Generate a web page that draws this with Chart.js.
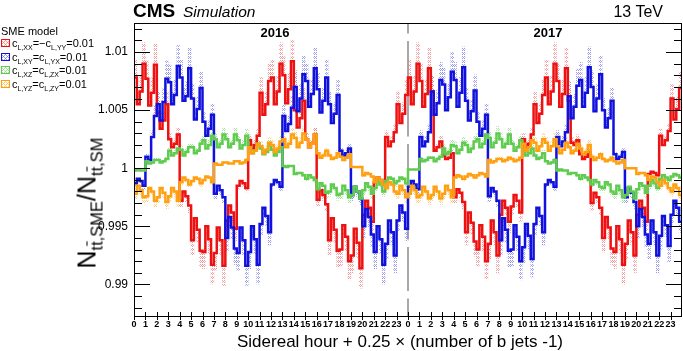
<!DOCTYPE html>
<html><head><meta charset="utf-8">
<script src="https://cdn.jsdelivr.net/npm/chart.js@4.4.1/dist/chart.umd.min.js"></script>
<style>
html,body{margin:0;padding:0;background:#fff;}
#wrap{position:relative;width:683px;height:351px;overflow:hidden;font-family:"Liberation Sans",Arial,Helvetica,sans-serif;color:#000;}
#c{position:absolute;left:0;top:0;}
.t{position:absolute;white-space:nowrap;line-height:1;}
.leg{position:absolute;left:1px;white-space:nowrap;line-height:1;font-size:11px;}
.leg sub{font-size:7px;vertical-align:-3px;line-height:0;}
.box{display:inline-block;width:7px;height:6px;margin-right:2px;vertical-align:0px;border:1px solid;}
#ytitle sub{font-size:16.5px;vertical-align:-7px;line-height:0;}
</style></head>
<body><div id="wrap">
<canvas id="c" width="683" height="351"></canvas>
<div class="t" style="left:133px;top:1px;font-size:19px;font-weight:bold;">CMS</div>
<div class="t" style="left:183px;top:4px;font-size:15.5px;font-style:italic;">Simulation</div>
<div class="t" style="right:20px;top:4px;font-size:16px;">13 TeV</div>
<div class="t" style="left:275px;top:26px;font-size:13px;font-weight:bold;transform:translateX(-50%);">2016</div>
<div class="t" style="left:548px;top:26px;font-size:13px;font-weight:bold;transform:translateX(-50%);">2017</div>
<div class="t" style="left:1px;top:26px;font-size:11px;">SME model</div>
<div class="leg" style="top:38px;"><span class="box" id="b0"></span>c<sub>L,XX</sub>=&minus;c<sub>L,YY</sub>=0.01</div>
<div class="leg" style="top:51.5px;"><span class="box" id="b1"></span>c<sub>L,XY</sub>=c<sub>L,YX</sub>=0.01</div>
<div class="leg" style="top:65px;"><span class="box" id="b2"></span>c<sub>L,XZ</sub>=c<sub>L,ZX</sub>=0.01</div>
<div class="leg" style="top:78.5px;"><span class="box" id="b3"></span>c<sub>L,YZ</sub>=c<sub>L,ZY</sub>=0.01</div>
<div class="t" id="ytitle" style="left:87px;top:203px;font-size:25px;transform:translate(-50%,-50%) rotate(-90deg);">N<sub>t<span style="text-decoration:overline">t</span>,SME</sub>/N<sub>t<span style="text-decoration:overline">t</span>,SM</sub></div>
<div class="t" style="left:400px;top:341px;font-size:17px;transform:translate(-50%,-50%);">Sidereal hour + 0.25 &times; (number of b jets -1)</div>
</div>
<script>
// ---------------- data ----------------
const hourLabels = ['0','1','2','3','4','5','6','7','8','9','10','11','12','13','14','15','16','17','18','19','20','21','22','23',
                    '0','1','2','3','4','5','6','7','8','9','10','11','12','13','14','15','16','17','18','19','20','21','22','23'];
const yTickValues = [0.99, 0.995, 1, 1.005, 1.01];
const yTickLabels = ['0.99', '0.995', '1', '1.005', '1.01'];
const seriesLabels = ['c_L,XX=-c_L,YY=0.01', 'c_L,XY=c_L,YX=0.01', 'c_L,XZ=c_L,ZX=0.01', 'c_L,YZ=c_L,ZY=0.01'];

const cXX2016 = [
1.0078,1.0055,1.0066,1.0090, 1.0077,1.0054,1.0065,1.0089, 1.0048,1.0034,1.0041,1.0055, 1.0025,1.0018,1.0021,1.0029,
0.9972,0.9980,0.9976,0.9968, 0.9938,0.9957,0.9947,0.9929, 0.9928,0.9950,0.9939,0.9917, 0.9927,0.9949,0.9938,0.9916,
0.9955,0.9968,0.9962,0.9948, 0.9985,0.9989,0.9987,0.9983, 1.0024,1.0017,1.0020,1.0028, 1.0065,1.0046,1.0055,1.0075,
1.0078,1.0055,1.0066,1.0090, 1.0080,1.0056,1.0068,1.0092, 1.0050,1.0035,1.0043,1.0058, 1.0025,1.0018,1.0021,1.0029,
0.9973,0.9981,0.9977,0.9969, 0.9938,0.9957,0.9947,0.9929, 0.9930,0.9951,0.9941,0.9920, 0.9925,0.9948,0.9936,0.9914,
0.9960,0.9972,0.9966,0.9954, 0.9988,0.9992,0.9990,0.9986, 1.0027,1.0019,1.0023,1.0031, 1.0055,1.0039,1.0047,1.0063];
const cXX2017 = [
1.0078,1.0055,1.0066,1.0090, 1.0075,1.0053,1.0064,1.0086, 1.0066,1.0015,1.0018,1.0023, 1.0011,1.0008,1.0009,1.0013,
0.9975,0.9982,0.9979,0.9971, 0.9945,0.9962,0.9953,0.9937, 0.9930,0.9951,0.9941,0.9920, 0.9935,0.9955,0.9945,0.9925,
0.9960,0.9972,0.9966,0.9954, 0.9967,0.9977,0.9972,0.9962, 1.0025,1.0018,1.0021,1.0029, 1.0055,1.0039,1.0047,1.0063,
1.0078,1.0055,1.0066,1.0090, 1.0075,1.0053,1.0064,1.0086, 1.0058,1.0022,1.0020,1.0024, 1.0012,1.0008,1.0010,1.0014,
0.9970,0.9979,0.9975,0.9966, 0.9940,0.9958,0.9949,0.9931, 0.9928,0.9950,0.9939,0.9917, 0.9935,0.9955,0.9945,0.9925,
0.9960,0.9972,0.9966,0.9954, 0.9995,0.9997,0.9996,0.9994, 1.0028,1.0020,1.0024,1.0032, 1.0060,1.0042,1.0051,1.0069];
const cXY2016 = [
0.9987,0.9991,0.9989,0.9985, 1.0010,1.0007,1.0027,1.0045, 1.0055,1.0041,1.0057,1.0077, 1.0074,1.0055,1.0063,1.0088,
1.0078,1.0058,1.0062,1.0086, 1.0060,1.0042,1.0051,1.0069, 1.0040,1.0028,1.0034,1.0046, 0.9978,0.9985,0.9981,0.9975,
0.9940,0.9958,0.9949,0.9931, 0.9927,0.9949,0.9938,0.9916, 0.9928,0.9950,0.9939,0.9917, 0.9952,0.9966,0.9959,0.9945,
0.9986,0.9990,0.9988,0.9984, 1.0045,1.0032,1.0038,1.0052, 1.0070,1.0049,1.0060,1.0081, 1.0075,1.0053,1.0064,1.0086,
1.0068,1.0048,1.0058,1.0078, 1.0055,1.0039,1.0047,1.0063, 1.0015,1.0011,1.0013,1.0017, 0.9977,0.9984,0.9980,0.9974,
0.9950,0.9965,0.9958,0.9943, 0.9928,0.9950,0.9939,0.9917, 0.9935,0.9955,0.9945,0.9925, 0.9955,0.9968,0.9962,0.9948];
const cXY2017 = [
0.9984,0.9989,0.9986,0.9982, 1.0027,1.0019,1.0023,1.0031, 1.0066,1.0046,1.0056,1.0076, 1.0072,1.0050,1.0061,1.0083,
1.0076,1.0053,1.0065,1.0087, 1.0058,1.0041,1.0049,1.0067, 1.0040,1.0028,1.0034,1.0046, 0.9976,0.9983,0.9980,0.9972,
0.9938,0.9957,0.9947,0.9929, 0.9930,0.9951,0.9941,0.9920, 0.9932,0.9952,0.9942,0.9922, 0.9952,0.9966,0.9959,0.9945,
0.9986,0.9990,0.9988,0.9984, 1.0027,1.0019,1.0023,1.0031, 1.0062,1.0043,1.0053,1.0071, 1.0076,1.0053,1.0065,1.0087,
1.0070,1.0049,1.0060,1.0081, 1.0050,1.0035,1.0043,1.0058, 1.0012,1.0008,1.0010,1.0014, 0.9975,0.9983,0.9979,0.9971,
0.9950,0.9965,0.9958,0.9943, 0.9935,0.9955,0.9945,0.9925, 0.9942,0.9959,0.9951,0.9933, 0.9960,0.9972,0.9966,0.9954];
const cXZ2016 = [
0.9998,0.9999,0.9998,0.9998, 1.0006,1.0004,1.0005,1.0007, 1.0007,1.0005,1.0006,1.0008, 1.0015,1.0011,1.0013,1.0017,
1.0016,1.0011,1.0014,1.0018, 1.0018,1.0013,1.0015,1.0021, 1.0024,1.0017,1.0020,1.0028, 1.0025,1.0018,1.0021,1.0029,
1.0025,1.0018,1.0021,1.0029, 1.0024,1.0017,1.0020,1.0028, 1.0018,1.0013,1.0015,1.0021, 1.0017,1.0012,1.0014,1.0020,
1.0016,1.0011,1.0014,1.0018, 1.0002,1.0001,1.0002,1.0002, 0.9995,0.9996,0.9996,0.9994, 0.9991,0.9994,0.9992,0.9990,
0.9982,0.9987,0.9985,0.9979, 0.9980,0.9986,0.9983,0.9977, 0.9978,0.9985,0.9981,0.9975, 0.9977,0.9984,0.9980,0.9974,
0.9981,0.9987,0.9984,0.9978, 0.9983,0.9988,0.9986,0.9980, 0.9989,0.9992,0.9991,0.9987, 0.9989,0.9992,0.9991,0.9987];
const cXZ2017 = [
0.9999,0.9999,0.9999,0.9999, 1.0008,1.0006,1.0007,1.0009, 1.0009,1.0006,1.0008,1.0010, 1.0017,1.0012,1.0014,1.0020,
1.0019,1.0013,1.0016,1.0022, 1.0020,1.0014,1.0017,1.0023, 1.0025,1.0018,1.0021,1.0029, 1.0026,1.0018,1.0022,1.0030,
1.0025,1.0018,1.0021,1.0029, 1.0021,1.0015,1.0018,1.0024, 1.0015,1.0011,1.0013,1.0017, 1.0011,1.0008,1.0009,1.0013,
1.0006,1.0004,1.0005,1.0007, 0.9998,0.9999,0.9998,0.9998, 0.9995,0.9996,0.9996,0.9994, 0.9991,0.9994,0.9992,0.9990,
0.9986,0.9990,0.9988,0.9984, 0.9983,0.9988,0.9986,0.9980, 0.9978,0.9985,0.9981,0.9975, 0.9977,0.9984,0.9980,0.9974,
0.9982,0.9987,0.9985,0.9979, 0.9985,0.9990,0.9987,0.9983, 0.9991,0.9994,0.9992,0.9990, 0.9993,0.9995,0.9994,0.9992];
const cYZ2016 = [
0.9978,0.9985,0.9981,0.9975, 0.9976,0.9983,0.9980,0.9972, 0.9975,0.9983,0.9979,0.9971, 0.9976,0.9983,0.9980,0.9972,
0.9988,0.9992,0.9990,0.9986, 0.9989,0.9992,0.9991,0.9987, 0.9990,0.9993,0.9992,0.9988, 1.0004,1.0003,1.0003,1.0005,
1.0005,1.0004,1.0004,1.0006, 1.0006,1.0004,1.0005,1.0007, 1.0018,1.0013,1.0015,1.0021, 1.0019,1.0013,1.0016,1.0022,
1.0020,1.0014,1.0017,1.0023, 1.0025,1.0018,1.0021,1.0029, 1.0026,1.0018,1.0022,1.0030, 1.0025,1.0018,1.0021,1.0029,
1.0013,1.0009,1.0011,1.0015, 1.0011,1.0008,1.0009,1.0013, 1.0010,1.0007,1.0009,1.0012, 1.0001,1.0001,1.0001,1.0001,
0.9994,0.9996,0.9995,0.9993, 0.9988,0.9992,0.9990,0.9986, 0.9983,0.9988,0.9986,0.9980, 0.9978,0.9985,0.9981,0.9975];
const cYZ2017 = [
0.9978,0.9985,0.9981,0.9975, 0.9977,0.9984,0.9980,0.9974, 0.9977,0.9984,0.9980,0.9974, 0.9978,0.9985,0.9981,0.9975,
0.9992,0.9994,0.9993,0.9991, 0.9993,0.9995,0.9994,0.9992, 0.9994,0.9996,0.9995,0.9993, 1.0007,1.0005,1.0006,1.0008,
1.0008,1.0006,1.0007,1.0009, 1.0008,1.0006,1.0007,1.0009, 1.0021,1.0015,1.0018,1.0024, 1.0022,1.0015,1.0019,1.0025,
1.0022,1.0015,1.0019,1.0025, 1.0019,1.0013,1.0016,1.0022, 1.0018,1.0013,1.0015,1.0021, 1.0017,1.0012,1.0014,1.0020,
1.0010,1.0007,1.0009,1.0012, 1.0008,1.0006,1.0007,1.0009, 1.0006,1.0004,1.0005,1.0007, 1.0000,1.0000,1.0000,1.0000,
0.9995,0.9996,0.9996,0.9994, 0.9990,0.9993,0.9992,0.9988, 0.9985,0.9990,0.9987,0.9983, 0.9980,0.9986,0.9983,0.9977];

// ---------------- styling ----------------
const binWidth = 0.25;        // x = hour + 0.25*(n_b - 1)
const yearBoundary = 24;
const bandFrac = 0.2;
const lineColors = ['#ee1111', '#1111dd', '#5fcc4f', '#ffa010'];
const hatchColors = ['rgba(240,110,115,0.7)', 'rgba(110,110,235,0.7)', 'rgba(140,220,130,0.8)', 'rgba(255,195,100,0.85)'];

function hatch(color){
  const c = document.createElement('canvas'); c.width = 4; c.height = 4;
  const g = c.getContext('2d'); g.fillStyle = color;
  g.fillRect(0,0,1,1); g.fillRect(2,0,1,1); g.fillRect(1,1,1,1); g.fillRect(3,1,1,1);
  g.fillRect(0,2,1,1); g.fillRect(2,2,1,1);
  return document.getElementById('c').getContext('2d').createPattern(c, 'repeat');
}
function steps(vals){
  const pts = vals.map((v,i)=>({x:i*binWidth, y:v}));
  pts.push({x:vals.length*binWidth, y:vals[vals.length-1]});
  return pts;
}
function band(vals){
  return vals.map((v,i)=>({x:(i+0.5)*binWidth, y:[v, 1+(v-1)*(1+bandFrac)]}));
}
const series = [cXX2016.concat(cXX2017), cXY2016.concat(cXY2017), cXZ2016.concat(cXZ2017), cYZ2016.concat(cYZ2017)];
const lineOrder = [4,3,2,1];
const datasets = [];
series.forEach((s,k)=>{
  datasets.push({type:'bar', label:seriesLabels[k]+' unc.', data:band(s), backgroundColor:hatch(hatchColors[k]),
    borderWidth:0, grouped:false, barPercentage:1, categoryPercentage:1, order:10+k});
  datasets.push({type:'line', label:seriesLabels[k], data:steps(s), borderColor:lineColors[k], borderWidth:2.5,
    stepped:true, pointRadius:0, fill:false, tension:0, order:lineOrder[k]});
});
['b0','b1','b2','b3'].forEach((id,k)=>{
  const e=document.getElementById(id); e.style.borderColor=lineColors[k];
  e.style.background='repeating-linear-gradient(45deg,'+hatchColors[k]+' 0 1px,transparent 1px 3px),repeating-linear-gradient(-45deg,'+hatchColors[k]+' 0 1px,transparent 1px 3px)';
});

const rootAxes = {
  id:'rootAxes',
  beforeDatasetsDraw(chart){
    const {ctx, chartArea:a, scales:{x}} = chart;
    ctx.save();
    const xd = Math.round(x.getPixelForValue(yearBoundary));
    ctx.strokeStyle='#a8a8a8'; ctx.lineWidth=2; ctx.setLineDash([44,7.5]); ctx.lineDashOffset=33.5;
    ctx.beginPath(); ctx.moveTo(xd, a.top); ctx.lineTo(xd, a.bottom); ctx.stroke();
    ctx.restore();
  },
  afterDatasetsDraw(chart){
    const {ctx, chartArea:a, scales:{x,y}} = chart;
    ctx.save();
    ctx.strokeStyle='#000'; ctx.lineWidth=1; ctx.setLineDash([]);
    ctx.strokeRect(a.left+0.5, a.top+0.5, a.right-a.left-1, a.bottom-a.top-1);
    ctx.beginPath();
    for(let m=988; m<=1012; m++){
      const py = Math.round(y.getPixelForValue(m/1000))+0.5;
      const len = (m%5===0)?16:8;
      ctx.moveTo(a.left, py); ctx.lineTo(a.left+len, py);
      ctx.moveTo(a.right, py); ctx.lineTo(a.right-len, py);
    }
    for(let h=0; h<hourLabels.length; h++){
      const px = Math.round(x.getPixelForValue(h))+0.5;
      ctx.moveTo(px, a.bottom+3); ctx.lineTo(px, a.bottom-5);
    }
    ctx.stroke();
    ctx.restore();
  }
};

new Chart(document.getElementById('c'), {
  type:'bar',
  data:{datasets},
  options:{
    responsive:false, animation:false, devicePixelRatio:1,
    layout:{padding:{left:94, right:1, top:23, bottom:0}},
    plugins:{legend:{display:false}, tooltip:{enabled:false}},
    scales:{
      x:{type:'linear', min:0, max:48, offset:false,
         grid:{display:false, drawTicks:false}, border:{display:false},
         afterBuildTicks:(s)=>{ s.ticks = hourLabels.map((l,i)=>({value:i})); },
         afterFit:(s)=>{ s.height = 34; },
         ticks:{autoSkip:false, maxRotation:0, minRotation:0, padding:2, color:'#000',
                font:{family:'"Liberation Sans", Arial', size:9, weight:'bold'},
                callback:(v,i)=>hourLabels[i]}},
      y:{type:'linear', min:0.9872, max:1.0125,
         grid:{display:false, drawTicks:false}, border:{display:false},
         afterBuildTicks:(s)=>{ s.ticks = yTickValues.map(v=>({value:v})); },
         afterFit:(s)=>{ s.width = 40; },
         ticks:{padding:6, color:'#000', font:{family:'"Liberation Sans", Arial', size:12},
                callback:(v,i)=>yTickLabels[i]}}
    }
  },
  plugins:[rootAxes]
});
</script>
</body></html>
